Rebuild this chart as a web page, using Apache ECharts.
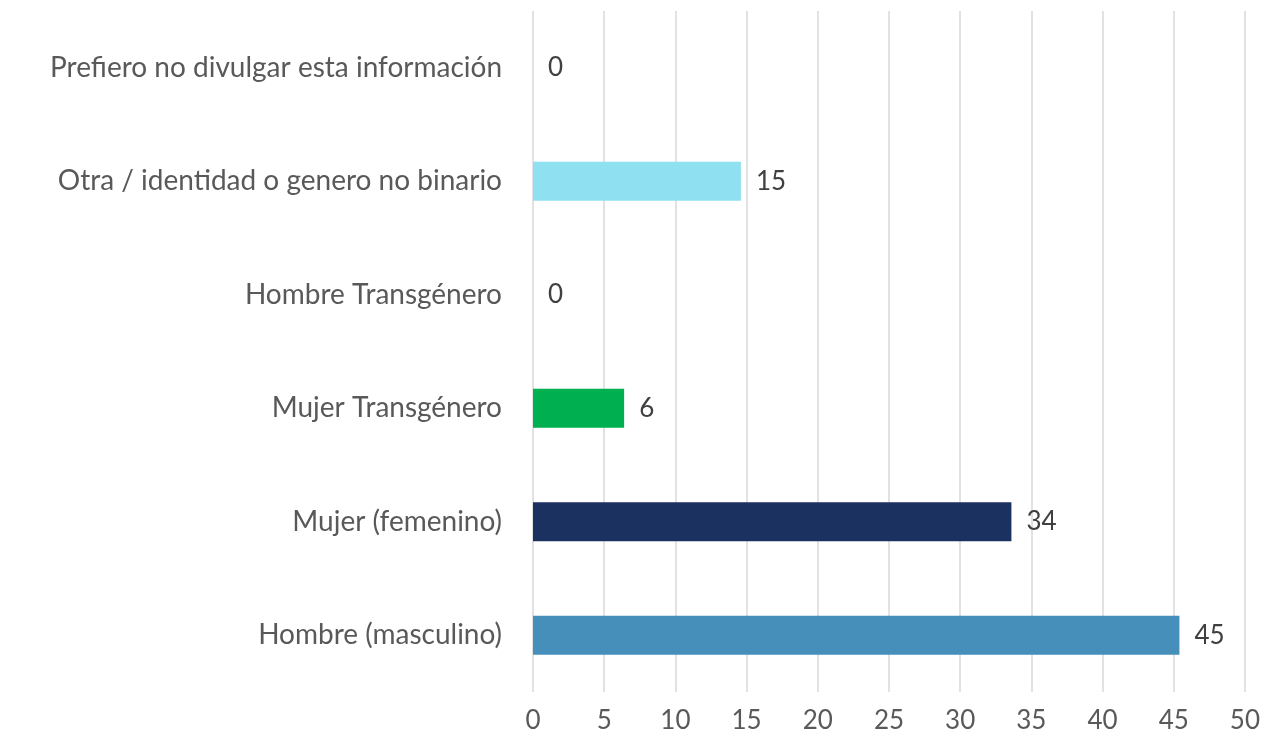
<!DOCTYPE html>
<html lang="es">
<head>
  <meta charset="UTF-8">
  <script src="https://cdn.jsdelivr.net/npm/echarts@6/dist/echarts.min.js"></script>
  <title>Identidad de género</title>
  <style>
    html, body { margin: 0; padding: 0; background: #fff; }
    #chart { width: 1263px; height: 746px; }
  </style>
</head>
<body>
  <div id="chart"></div>
  <script>
    // categorias de abajo hacia arriba
    const categorias = [
      'Hombre (masculino)',
      'Mujer (femenino)',
      'Mujer Transgénero',
      'Hombre Transgénero',
      'Otra / identidad o genero no binario',
      'Prefiero no divulgar esta información'
    ];
    const valores = [45.4, 33.6, 6.4, 0, 14.6, 0];
    const colores = ['#468FBA', '#1B3160', '#00B050', '#8FE0F0', '#8FE0F0', '#8FE0F0'];

    const fuente = 'Lato, "Open Sans", sans-serif';
    const chart = echarts.init(document.getElementById('chart'));

    chart.setOption({
      animation: false,
      grid: { left: 533, right: 17, top: 11, bottom: 54 },
      xAxis: {
        type: 'value',
        min: 0,
        max: 50,
        interval: 5,
        axisLine: { show: false },
        axisTick: { show: false },
        splitLine: { lineStyle: { color: '#D9D9D9', width: 1.5 } },
        axisLabel: { color: '#595959', fontSize: 26, fontFamily: fuente, margin: 16 }
      },
      yAxis: {
        type: 'category',
        data: categorias,
        axisLine: { show: false },
        axisTick: { show: false },
        axisLabel: { color: '#595959', fontSize: 28, fontFamily: fuente, margin: 31 }
      },
      series: [{
        type: 'bar',
        barWidth: 39,
        data: valores.map((v, i) => ({ value: v, itemStyle: { color: colores[i] } })),
        label: {
          show: true,
          position: 'right',
          distance: 15,
          color: '#404040',
          fontSize: 26,
          fontFamily: fuente,
          formatter: p => Math.round(p.value)
        }
      }]
    });
  </script>
</body>
</html>
